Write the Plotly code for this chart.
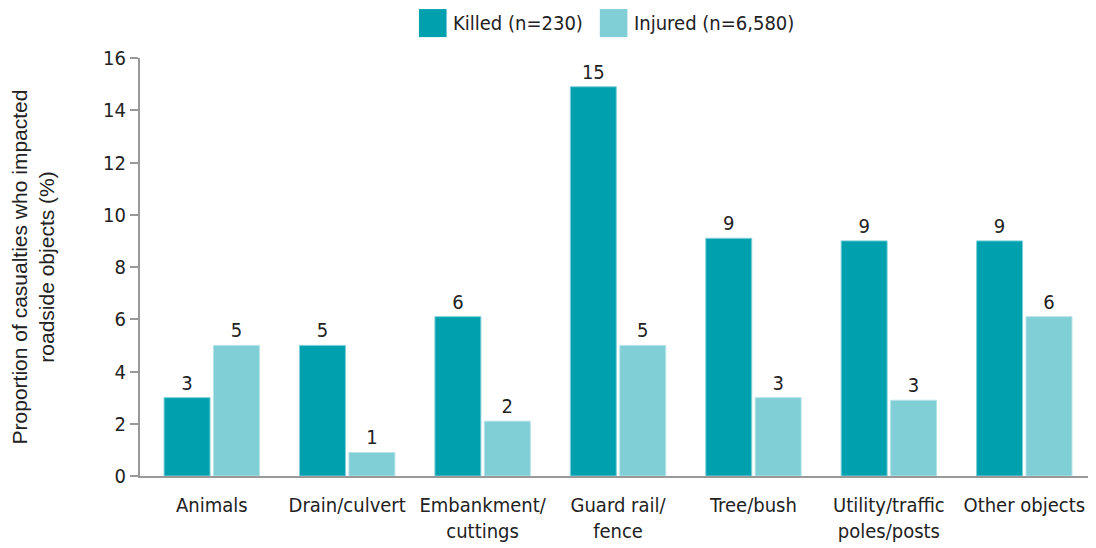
import plotly.graph_objects as go

categories = ["Animals", "Drain/culvert", "Embankment/<br>cuttings", "Guard rail/<br>fence",
              "Tree/bush", "Utility/traffic<br>poles/posts", "Other objects"]
killed = [3.0, 5.0, 6.1, 14.9, 9.1, 9.0, 9.0]
injured = [5.0, 0.9, 2.1, 5.0, 3.0, 2.9, 6.1]
killed_labels = ["3", "5", "6", "15", "9", "9", "9"]
injured_labels = ["5", "1", "2", "5", "3", "3", "6"]
series_names = ["Killed (n=230)", "Injured (n=6,580)"]
y_ticks = [0, 2, 4, 6, 8, 10, 12, 14, 16]

FONT = "DejaVu Sans Condensed, Liberation Sans Narrow, sans-serif"
TXT = "#222222"
C_K = "#00A0AF"
C_I = "#80CED6"

fig = go.Figure()
fig.add_trace(go.Bar(x=categories, y=killed, name=series_names[0], showlegend=False,
                     marker=dict(color=C_K, line=dict(color="#7fd0d8", width=1)),
                     text=killed_labels, textposition="outside", cliponaxis=False,
                     textfont=dict(family=FONT, size=20, color=TXT)))
fig.add_trace(go.Bar(x=categories, y=injured, name=series_names[1], showlegend=False,
                     marker=dict(color=C_I, line=dict(color="#b5e3e8", width=1)),
                     text=injured_labels, textposition="outside", cliponaxis=False,
                     textfont=dict(family=FONT, size=20, color=TXT)))

# manual legend (big square swatches like the reference)
for (x0, x1, tx, col, name) in [(0.293, 0.322, 0.327, C_K, series_names[0]),
                                 (0.483, 0.512, 0.517, C_I, series_names[1])]:
    fig.add_shape(type="rect", xref="paper", yref="paper", x0=x0, x1=x1, y0=1.050, y1=1.117,
                  fillcolor=col, line=dict(width=0))
    fig.add_annotation(xref="paper", yref="paper", x=tx, y=1.084, xanchor="left", yanchor="middle",
                       text=name, showarrow=False, font=dict(family=FONT, size=20, color=TXT))

fig.update_layout(
    width=1096, height=548,
    margin=dict(l=132, r=12, t=50, b=80, autoexpand=False),
    paper_bgcolor="white", plot_bgcolor="white",
    barmode="group", bargap=0.27, bargroupgap=0.07,
    font=dict(family=FONT, color=TXT, size=20),
    showlegend=False,
    xaxis=dict(showline=True, linecolor="#999999", linewidth=2, ticks="",
               range=[-0.53, 6.5], tickfont=dict(family=FONT, size=20, color=TXT),
               ticklabelstandoff=10, showgrid=False),
    yaxis=dict(showline=True, linecolor="#999999", linewidth=2, ticks="outside",
               ticklen=8, tickcolor="#999999", tickwidth=2,
               range=[0, 16], tickvals=y_ticks, showgrid=False, zeroline=False,
               tickfont=dict(family=FONT, size=20, color=TXT),
               title=dict(text="Proportion of casualties who impacted<br>roadside objects (%)",
                          font=dict(family="Liberation Sans, Arial, sans-serif", size=21, color=TXT),
                          standoff=50)),
)
fig.write_html("out.html")
